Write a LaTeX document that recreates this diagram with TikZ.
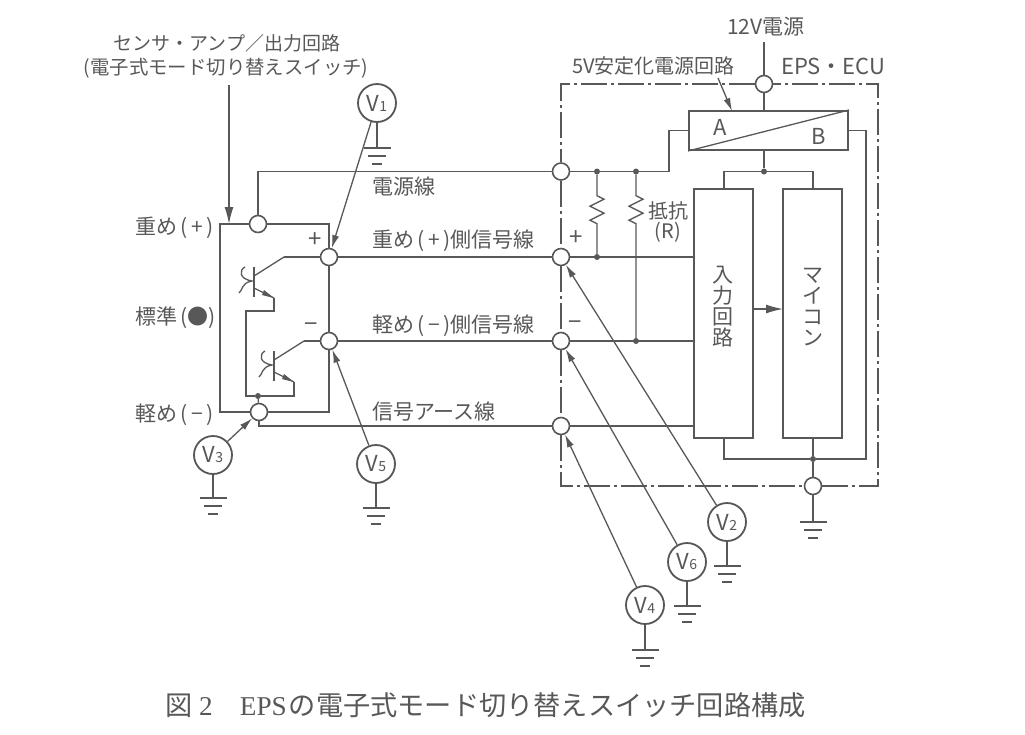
\documentclass[tikz,border=0pt]{standalone}
\usepackage{fontspec}
\setmainfont{Noto Sans CJK JP}
\newfontfamily\capfont{Liberation Serif}
\usepackage{tikz}
\usetikzlibrary{arrows.meta, decorations.pathmorphing}
\definecolor{ink}{HTML}{585858}
\newcommand{\fsize}[1]{\fontsize{#1}{#1}\selectfont}
\tikzset{
  wire/.style={draw=ink, line width=1.3pt},
  thick wire/.style={draw=ink, line width=2pt},
  ecu/.style={draw=ink, line width=1.1pt, dash pattern=on 26pt off 4pt on 3pt off 4pt},
  term/.style={circle, draw=ink, line width=1.6pt, fill=white, minimum size=17pt, inner sep=0pt},
  dotj/.style={circle, fill=ink, minimum size=6pt, inner sep=0pt},
  meter/.style={circle, draw=ink, line width=1.8pt, fill=white, minimum size=38pt, inner sep=0pt, text=ink},
  label/.style={text=ink, font=\fsize{21}, inner sep=0pt},
  tip/.style={-{Latex[length=13pt, width=7pt]}},
  bigtip/.style={-{Latex[length=17pt, width=9pt]}},
  res/.style={wire, decorate, decoration={zigzag, amplitude=7pt, segment length=14pt, pre length=21pt, post length=#1}},
  gnd/.pic={
    \draw[thick wire] (-13.5,0) -- (13.5,0);
    \draw[wire] (-9,8) -- (9,8);
    \draw[wire] (-5,16) -- (5,16);
  },
  phototr/.pic={
    \draw[wire] (0,-15) -- (0,15);
    \draw[wire] (0,-6) -- (30,-25) coordinate (-col);
    \draw[wire] (0,6) -- (20,16) coordinate (-emi);
    \fill[ink] (20,16) -- (10,8) -- (8,13) -- cycle;
    \draw[wire] (-9,-15) .. controls (-15,-12) and (-15,-3) .. (-2,-1)
      .. controls (-13,1) and (-11,8) .. (-15,11);
  }
}
\begin{document}
\begin{tikzpicture}[x=1pt, y=-1pt]
  \useasboundingbox (0,0) rectangle (1025,734);
  % terminals
  \node[term] (pwrL) at (258,224) {};
  \node[term] (plusL) at (329,257) {};
  \node[term] (minusL) at (329,341) {};
  \node[term] (earthL) at (259,412) {};
  \node[term] (pwrR) at (561,171.5) {};
  \node[term] (plusR) at (561,257) {};
  \node[term] (minusR) at (561,341) {};
  \node[term] (earthR) at (561,426) {};
  \node[term] (vcc) at (764,84) {};
  \node[term] (case) at (813,486) {};
  % sensor box
  \coordinate (boxA) at (220,224);
  \coordinate (boxB) at (329,224);
  \coordinate (boxC) at (329,412);
  \coordinate (boxD) at (220,412);
  \draw[thick wire] (pwrL) -- (boxA) -- (boxD) -- (earthL);
  \draw[thick wire] (pwrL) -- (boxB) -- (plusL) -- (minusL) -- (boxC) -- (earthL);
  \pic (q1) at (254,282) {phototr};
  \pic (q2) at (274,366) {phototr};
  \node[dotj] (joinQ) at (258,396) {};
  \draw[wire] (q1-col) -- (plusL);
  \draw[wire] (q2-col) -- (minusL);
  \draw[wire] (q1-emi) -- (274,311) -- (246,311) -- (246,396) -- (joinQ);
  \draw[wire] (q2-emi) -- (294,396) -- (joinQ);
  \draw[wire] (joinQ) -- (earthL);
  % harness
  \draw[wire] (pwrL) |- (pwrR);
  \draw[wire] (plusL) -- (plusR);
  \draw[wire] (minusL) -- (minusR);
  \draw[wire] (earthL) |- (earthR);
  % ECU
  \coordinate (ecuA) at (561,83);
  \coordinate (ecuB) at (878,83);
  \coordinate (ecuC) at (878,486);
  \coordinate (ecuD) at (561,486);
  \draw[ecu] (vcc) -- (vcc -| ecuA) -- (pwrR);
  \draw[ecu] (pwrR) -- (plusR);
  \draw[ecu] (plusR) -- (minusR);
  \draw[ecu] (minusR) -- (earthR);
  \draw[ecu] (earthR) -- (ecuD) -- (case);
  \draw[ecu] (case) -- (case -| ecuC) -- (vcc -| ecuB) -- (vcc);
  \node[draw=ink, line width=2pt, minimum width=159pt, minimum height=39pt, inner sep=0pt] (reg) at (768.5,130.5) {};
  \node[draw=ink, line width=2pt, minimum width=59pt, minimum height=249pt, inner sep=0pt] (input) at (723.5,313.5) {};
  \node[draw=ink, line width=2pt, minimum width=59pt, minimum height=249pt, inner sep=0pt] (micom) at (812.5,313.5) {};
  \draw[wire] (reg.south west) -- (reg.north east);
  \node[label, font=\fsize{22}] (regA) at (720,127) {A};
  \node[label, font=\fsize{22}] (regB) at (819,136) {B};
  \node[label, align=center] (inputT) at (723,307) {入\\力\\回\\路};
  \node[label, align=center] (micomT) at (813,307) {マ\\イ\\コ\\ン};
  \coordinate (supply) at (764,42);
  \node[dotj] (joinA) at (764,171.5) {};
  \node[dotj] (joinB) at (597,171.5) {};
  \node[dotj] (joinC) at (636,171.5) {};
  \node[dotj] (joinD) at (597,257) {};
  \node[dotj] (joinE) at (636,341) {};
  \node[dotj] (joinF) at (813,459) {};
  \draw[wire] (supply) -- (vcc);
  \draw[wire] (vcc) -- (vcc |- reg.north);
  \draw[wire] (joinA |- reg.south) -- (joinA);
  \draw[wire] (pwrR) -- (669,171.5) -- (669,130.5) -- (reg.west);
  \draw[wire] (joinA) -- (724,171.5) -- (724,189);
  \draw[wire] (joinA) -- (813,171.5) -- (813,189);
  \draw[wire] (reg.east) -- (866,130.5) -- (866,459) -- (joinF);
  \draw[wire] (joinF) -- (724,459) -- (724,438);
  \draw[wire] (813,438) -- (joinF);
  \draw[wire] (joinF) -- (case);
  \draw[wire] (plusR) -- (694,257);
  \draw[wire] (minusR) -- (694,341);
  \draw[wire] (earthR) -- (694,426);
  \draw[res=25pt] (joinB) -- (joinD);
  \draw[res=109pt] (joinC) -- (joinE);
  \draw[wire, bigtip] (753,309) -- (783,309);
  % meters
  \node[meter] (V1) at (377,103) {\fsize{22}V\fsize{14}1};
  \node[meter] (V2) at (727,522) {\fsize{22}V\fsize{14}2};
  \node[meter] (V3) at (213,455) {\fsize{22}V\fsize{14}3};
  \node[meter] (V4) at (645,605) {\fsize{22}V\fsize{14}4};
  \node[meter] (V5) at (376,464) {\fsize{22}V\fsize{14}5};
  \node[meter] (V6) at (687,562) {\fsize{22}V\fsize{14}6};
  \draw[wire, tip] (V1) -- (plusL);
  \draw[wire, tip] (V2) -- (plusR);
  \draw[wire, tip] (V3) -- (earthL);
  \draw[wire, tip] (V4) -- (earthR);
  \draw[wire, tip] (V5) -- (minusL);
  \draw[wire, tip] (V6) -- (minusR);
  % earths
  \pic (g1) at (377,148) {gnd};
  \pic (g2) at (727,566) {gnd};
  \pic (g3) at (213,498) {gnd};
  \pic (g4) at (645,650) {gnd};
  \pic (g5) at (376,508) {gnd};
  \pic (g6) at (687,606) {gnd};
  \pic (g7) at (813,522) {gnd};
  \draw[wire] (V1) -- (377,148);
  \draw[wire] (V2) -- (727,566);
  \draw[wire] (V3) -- (213,498);
  \draw[wire] (V4) -- (645,650);
  \draw[wire] (V5) -- (376,508);
  \draw[wire] (V6) -- (687,606);
  \draw[wire] (case) -- (813,522);
  % labels
  \node[label, font=\fsize{19}] (sensorA) at (227,43) {センサ・アンプ／出力回路};
  \node[label, font=\fsize{19.4}] (sensorB) at (226,68) {(電子式モード切り替えスイッチ)};
  \coordinate (sensorC) at (229,85);
  \draw[wire, bigtip] (sensorC) -- (229,224);
  \node[label, anchor=west] (heavy) at (135,228) {重め\,(\,+\,)};
  \node[label, anchor=west] (normal) at (135,318) {標準\,(●)};
  \node[label, anchor=west] (light) at (135,415) {軽め\,(\,−\,)};
  \node[label, anchor=west] (lineA) at (372,187) {電源線};
  \node[label, anchor=west] (lineB) at (372,241) {重め\,(\,+\,)側信号線};
  \node[label, anchor=west] (lineC) at (372,326) {軽め\,(\,−\,)側信号線};
  \node[label, anchor=west] (lineD) at (372,412) {信号アース線};
  \node[label, font=\fsize{24}] (plusA) at (315,240) {+};
  \node[label, font=\fsize{24}] (minusA) at (311,328) {−};
  \node[label, font=\fsize{24}] (plusB) at (576,238) {+};
  \node[label, font=\fsize{24}] (minusB) at (575,326) {−};
  \node[label, font=\fsize{20}, align=center] (resT) at (668,222) {抵抗\\(R)};
  \node[label] (supplyT) at (766,27) {12V電源};
  \node[label, anchor=west, font=\fsize{20}] (regT) at (572,66) {5V安定化電源回路};
  \node[label, anchor=west, font=\fsize{22}] (ecuT) at (781,66) {EPS・ECU};
  \coordinate (regTip) at (732,111);
  \draw[wire, tip] (718,78) -- (regTip);
  \node[label, anchor=west, font=\fsize{27.2}] (caption) at (165,705) {図\capfont~2\quad EPS\hspace{2pt}\normalfont の電子式モード切り替えスイッチ回路構成};
\end{tikzpicture}
\end{document}
